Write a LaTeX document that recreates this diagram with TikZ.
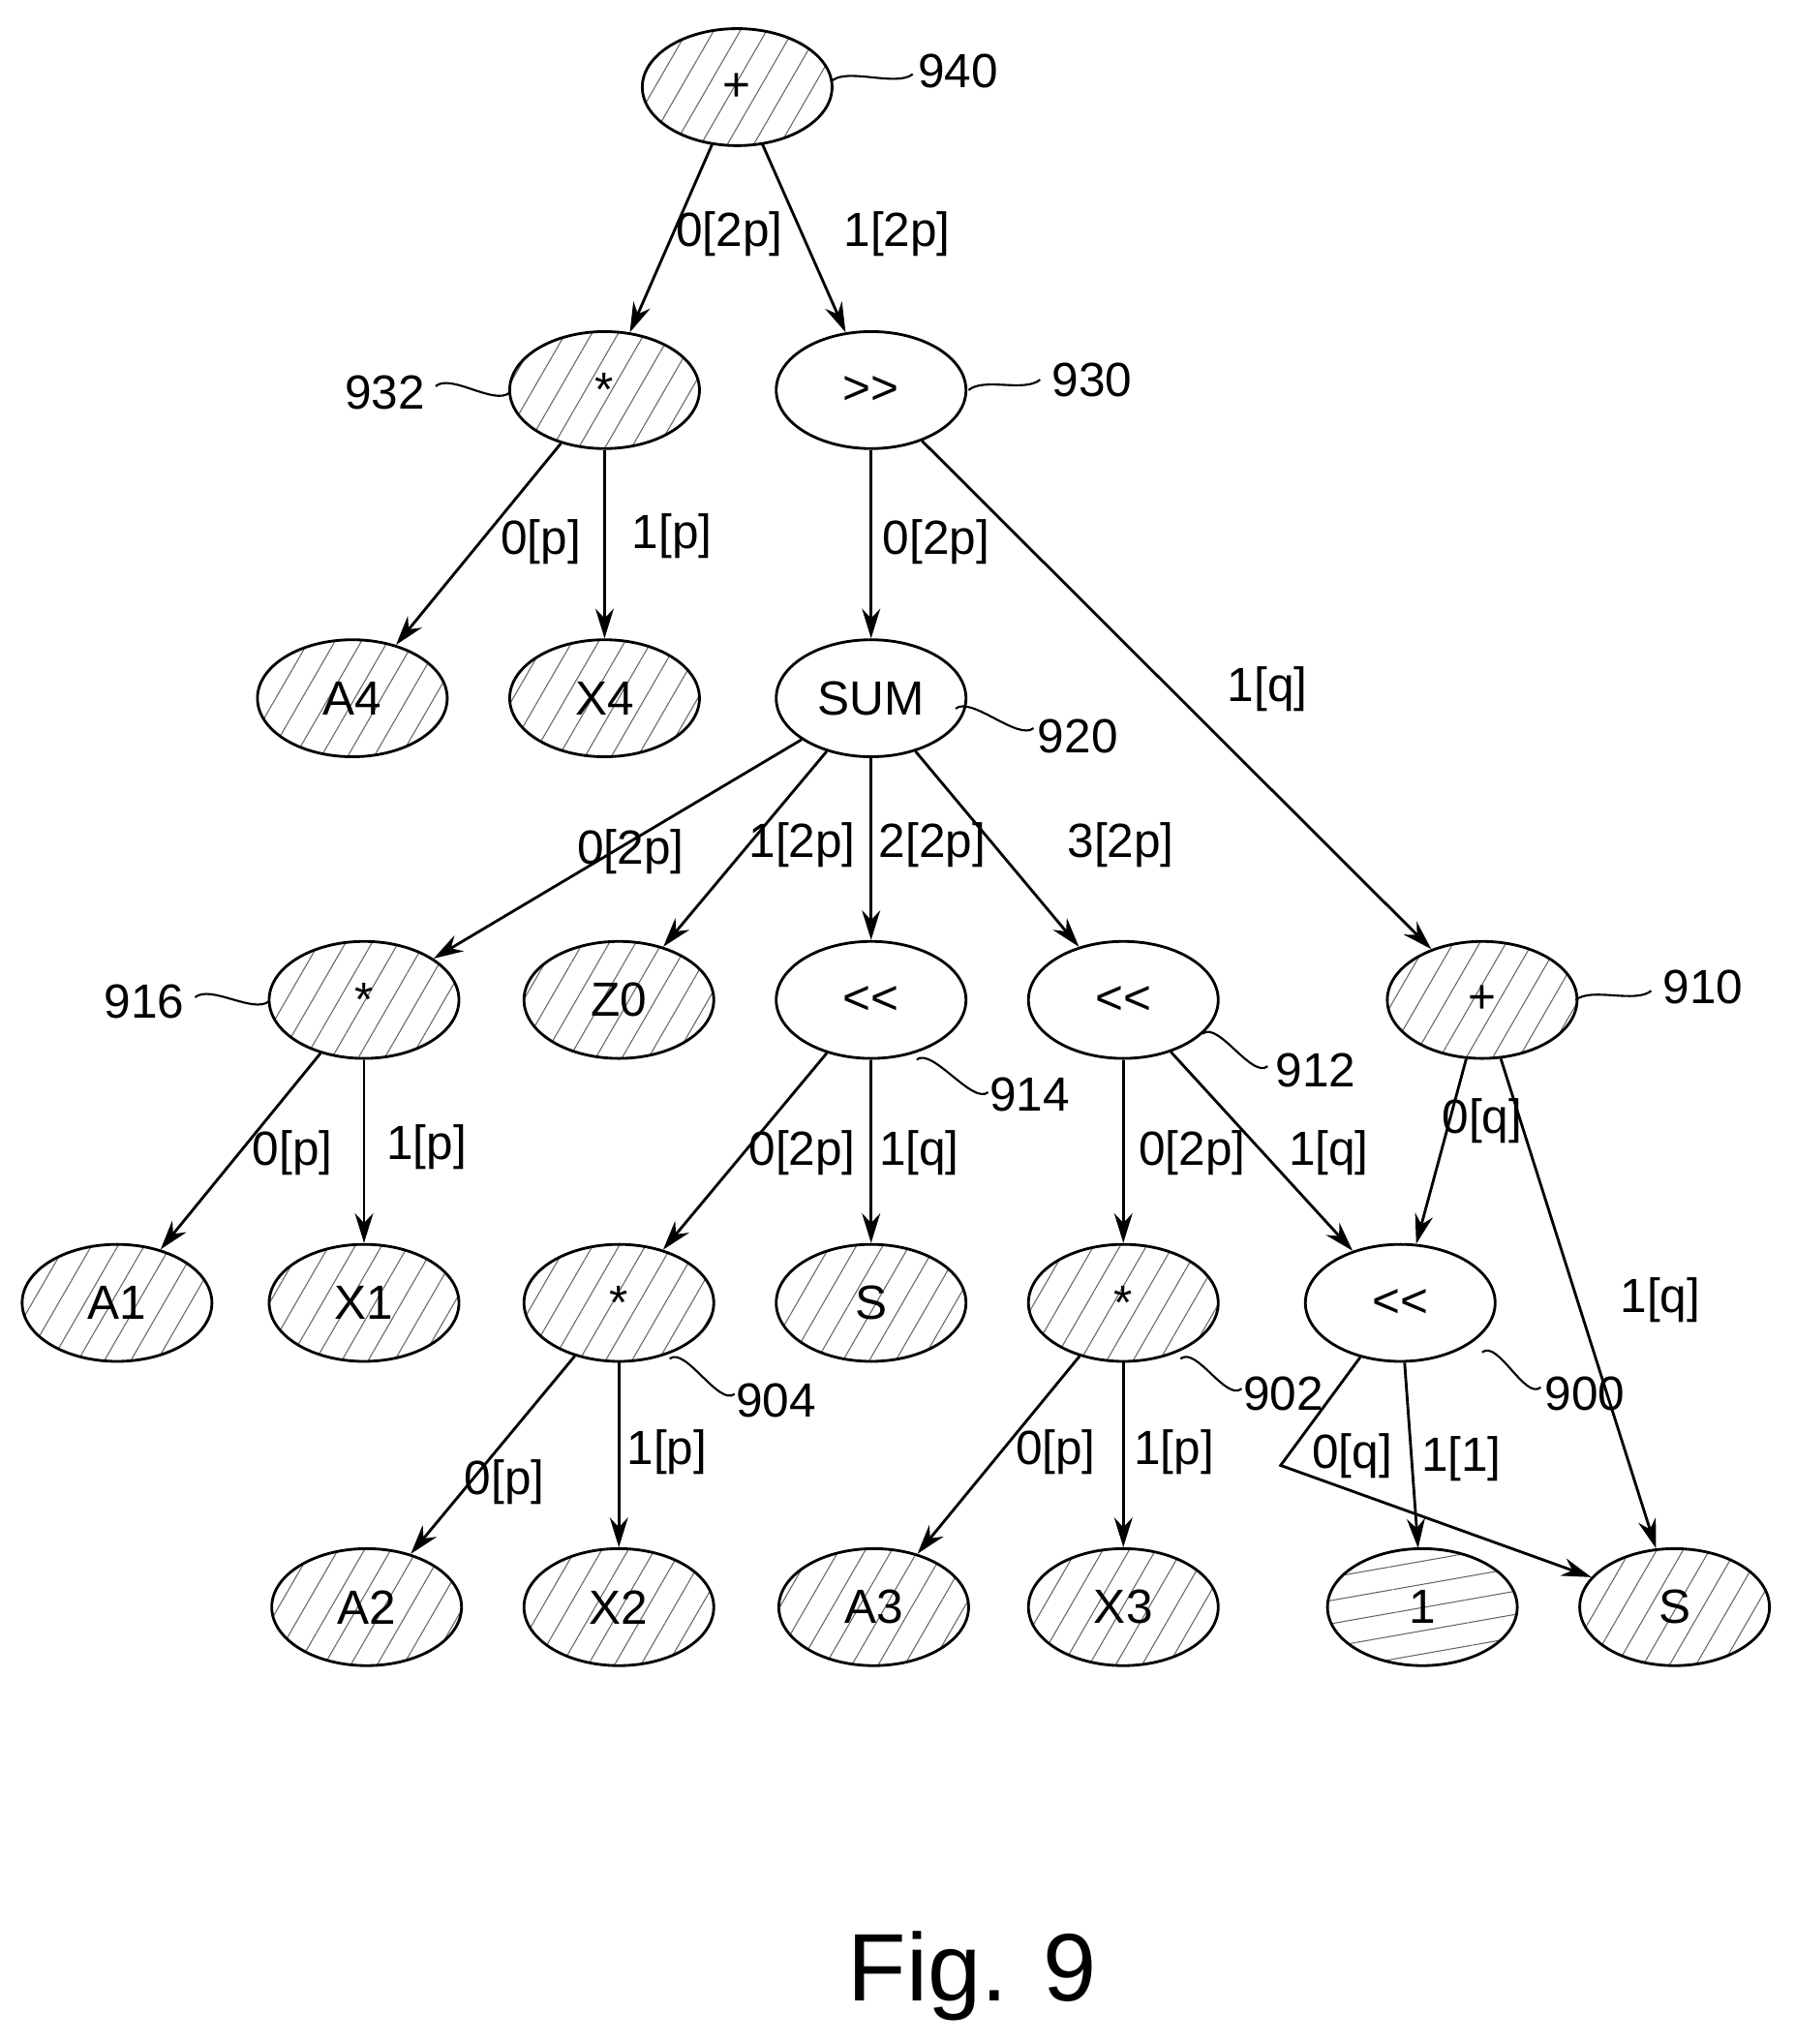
\documentclass[tikz,border=0pt]{standalone}
\usepackage{fontspec}
\setmainfont{Liberation Sans}
\usetikzlibrary{arrows.meta,patterns.meta,shapes.geometric}

\tikzset{
  op/.style={draw,ellipse,line width=1.2pt,minimum width=2.92cm,minimum height=1.8cm,inner sep=0pt},
  hop/.style={op,pattern={Lines[angle=60,distance=10pt,line width=0.45pt]},pattern color=gray!80!black},
  lab/.style={font=\fontsize{21}{24}\selectfont},
  arr/.style={line width=1.2pt,-{Stealth[length=13pt,width=8pt]}},
  sq/.style={line width=0.9pt}
}
\newcommand{\refnum}[4]{%
  \draw[sq] (#1) .. controls +(12,-10) and +(-12,10) .. (#2);
  \node[lab] at (#3) {#4};}

\begin{document}
\begin{tikzpicture}[x=0.02cm,y=-0.02cm,font=\fontsize{21}{24}\selectfont]
\useasboundingbox (0,0) rectangle (1380,1572);

% nodes
\node[hop] (n940) at (567,67) {+};
\node[hop] (n932) at (465,300) {*};
\node[op] (n930) at (670,300) {{>}{>}};
\node[hop] (a4) at (271,537) {A4};
\node[hop] (x4) at (465,537) {X4};
\node[op] (n920) at (670,537) {SUM};
\node[hop] (n916) at (280,769) {*};
\node[hop] (z0) at (476,769) {Z0};
\node[op] (n914) at (670,769) {{<}{<}};
\node[op] (n912) at (864,769) {{<}{<}};
\node[hop] (n910) at (1140,769) {+};
\node[hop] (a1) at (90,1002) {A1};
\node[hop] (x1) at (280,1002) {X1};
\node[hop] (n904) at (476,1002) {*};
\node[hop] (s1) at (670,1002) {S};
\node[hop] (n902) at (864,1002) {*};
\node[op] (n900) at (1077,1002) {{<}{<}};
\node[hop] (a2) at (282,1236) {A2};
\node[hop] (x2) at (476,1236) {X2};
\node[hop] (a3) at (672,1236) {A3};
\node[hop] (x3) at (864,1236) {X3};
\node[op,pattern={Lines[angle=10,distance=10pt,line width=0.45pt]},pattern color=gray!80!black] (one) at (1094,1236) {1};
\node[hop] (s2) at (1288,1236) {S};
\coordinate (bend) at (985,1127);

% connectors
\draw[arr] (n940) -- (n932);
\draw[arr] (n940) -- (n930);
\draw[arr] (n932) -- (a4);
\draw[arr] (n932) -- (x4);
\draw[arr] (n930) -- (n920);
\draw[arr] (n930) -- (n910);
\draw[arr] (n920) -- (n916);
\draw[arr] (n920) -- (z0);
\draw[arr] (n920) -- (n914);
\draw[arr] (n920) -- (n912);
\draw[arr] (n916) -- (a1);
\draw[arr] (n916) -- (x1);
\draw[arr] (n914) -- (n904);
\draw[arr] (n914) -- (s1);
\draw[arr] (n912) -- (n902);
\draw[arr] (n912) -- (n900);
\draw[arr] (n910) -- (n900);
\draw[arr] (n910) -- (s2);
\draw[arr] (n904) -- (a2);
\draw[arr] (n904) -- (x2);
\draw[arr] (n902) -- (a3);
\draw[arr] (n902) -- (x3);
\draw[arr] (n900) -- (one);
\draw[arr] (n900) -- (bend) -- (s2);

% edge labels
\node[lab] at (561,180) {0[2p]};
\node[lab] at (690,180) {1[2p]};
\node[lab] at (416,417) {0[p]};
\node[lab] at (517,412) {1[p]};
\node[lab] at (720,417) {0[2p]};
\node[lab] at (975,530) {1[q]};
\node[lab] at (485,655) {0[2p]};
\node[lab] at (617,650) {1[2p]};
\node[lab] at (717,650) {2[2p]};
\node[lab] at (862,650) {3[2p]};
\node[lab] at (225,887) {0[p]};
\node[lab] at (328,882) {1[p]};
\node[lab] at (617,887) {0[2p]};
\node[lab] at (707,887) {1[q]};
\node[lab] at (917,887) {0[2p]};
\node[lab] at (1022,887) {1[q]};
\node[lab] at (1140,862) {0[q]};
\node[lab] at (1277,1000) {1[q]};
\node[lab] at (388,1140) {0[p]};
\node[lab] at (513,1117) {1[p]};
\node[lab] at (812,1117) {0[p]};
\node[lab] at (903,1117) {1[p]};
\node[lab] at (1040,1120) {0[q]};
\node[lab] at (1124,1122) {1[1]};

% reference numerals
\refnum{640,62}{702,57}{737,55}{940}
\refnum{335,297}{392,302}{296,302}{932}
\refnum{745,300}{800,292}{840,292}{930}
\refnum{735,545}{795,560}{829,566}{920}
\refnum{150,767}{207,770}{111,770}{916}
\refnum{705,815}{760,840}{792,842}{914}
\refnum{925,795}{975,820}{1012,823}{912}
\refnum{1212,769}{1270,762}{1310,759}{910}
\refnum{515,1045}{565,1072}{597,1077}{904}
\refnum{908,1045}{955,1068}{987,1072}{902}
\refnum{1140,1040}{1185,1067}{1219,1072}{900}

\node[font=\fontsize{42}{46}\selectfont] (fig) at (748,1520) {Fig. 9};
\end{tikzpicture}
\end{document}
